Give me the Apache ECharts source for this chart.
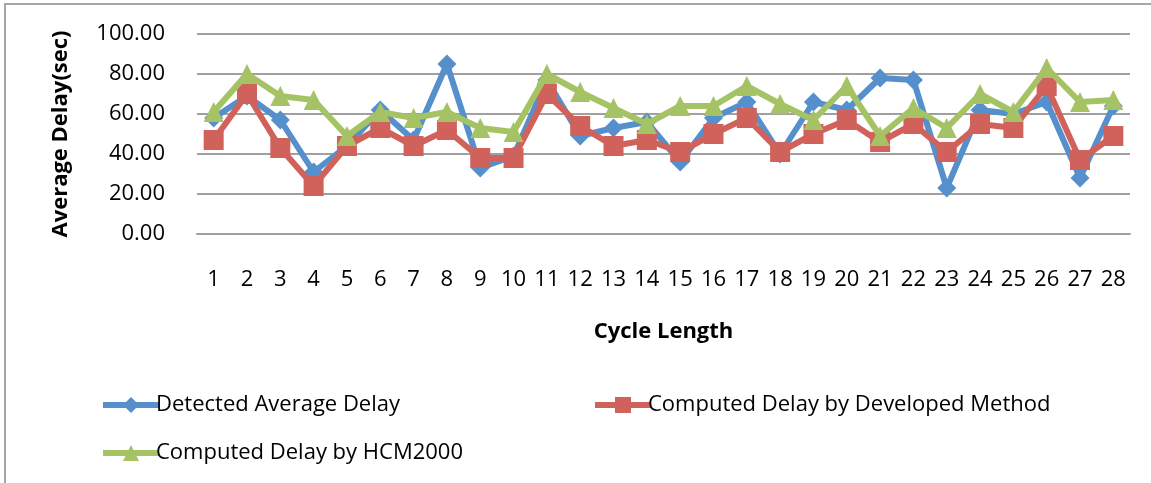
<!DOCTYPE html>
<html><head><meta charset="utf-8">
<script src="https://cdn.jsdelivr.net/npm/echarts@6/dist/echarts.min.js"></script>
<style>html,body{margin:0;padding:0;background:#fff}#c{width:1151px;height:483px}</style>
</head><body><div id="c"></div>
<script>
const categories = ['1','2','3','4','5','6','7','8','9','10','11','12','13','14','15','16','17','18','19','20','21','22','23','24','25','26','27','28'];
const detected = [58,69,57,31,44,62,47,85,33,39,77,49,53,56,36,58,66,40,66,62,78,77,23,62,60,66,28,64];
const developed = [47,70,43,24,44,53,44,52,38,38,70,54,44,47,41,50,58,41,50,57,46,55,41,55,53,74,37,49];
const hcm2000 = [61,80,69,67,49,61,58,61,53,51,80,71,63,55,64,64,74,65,57,74,49,63,53,70,61,83,66,67];
const yTicks = [0,20,40,60,80,100];
const names = ['Detected Average Delay','Computed Delay by Developed Method','Computed Delay by HCM2000'];
const colors = ['#5590CC','#D0625B','#A5C264'];

const font = '"Open Sans", sans-serif';
const chart = echarts.init(document.getElementById('c'));
const mk = (i, data, symbol, size) => ({
  name: names[i], type: 'line', data: data, symbol: symbol, symbolSize: size,
  lineStyle: {width: 6, color: colors[i]}, itemStyle: {color: colors[i]},
  z: 2 + i, animation: false
});
const legendCommon = {itemWidth: 56, itemHeight: 20, itemGap: 0,
  lineStyle: {width: 6},
  textStyle: {fontFamily: font, fontSize: 22, color: '#000', padding: [0,0,0,-8]}, selectedMode: false};
chart.setOption({
  animation: false,
  grid: {left: 197, right: 21, top: 34, bottom: 249},
  graphic: [{type: 'rect', shape: {x: 5, y: 4, width: 1200, height: 600}, style: {fill: 'none', stroke: '#a6a6a6', lineWidth: 2}, silent: true}],
  xAxis: {
    type: 'category', data: categories, boundaryGap: true,
    axisLine: {lineStyle: {color: '#a0a0a0', width: 2}}, axisTick: {show: false},
    axisLabel: {fontFamily: font, fontSize: 22, color: '#000', margin: 35, interval: 0},
    name: 'Cycle Length', nameLocation: 'middle', nameGap: 87,
    nameTextStyle: {fontFamily: font, fontSize: 22, fontWeight: 'bold', color: '#000'}
  },
  yAxis: {
    type: 'value', min: yTicks[0], max: yTicks[yTicks.length-1], interval: 20,
    axisLine: {show: false}, axisTick: {show: false},
    splitLine: {lineStyle: {color: '#a0a0a0', width: 2}},
    axisLabel: {fontFamily: font, fontSize: 22, color: '#000', margin: 32, formatter: v => v.toFixed(2)},
    name: 'Average Delay(sec)', nameLocation: 'middle', nameRotate: 90, nameGap: 125,
    nameTextStyle: {fontFamily: font, fontSize: 22, fontWeight: 'bold', color: '#000'}
  },
  legend: [
    Object.assign({data: [names[0]], left: 95, top: 389}, legendCommon),
    Object.assign({data: [names[1]], left: 587, top: 389}, legendCommon),
    Object.assign({data: [names[2]], left: 95, top: 437}, legendCommon)
  ],
  series: [
    mk(0, detected, 'diamond', 19),
    mk(1, developed, 'rect', 20),
    mk(2, hcm2000, 'triangle', 20)
  ]
});
</script></body></html>
